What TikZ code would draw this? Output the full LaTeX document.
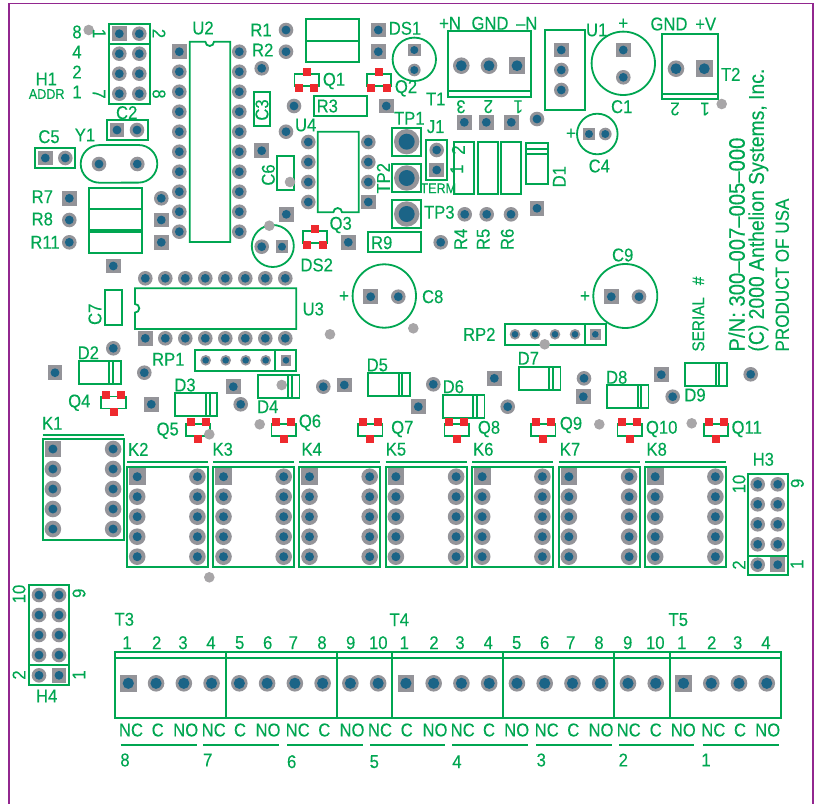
\documentclass[tikz,border=0pt]{standalone}
\usepackage{fontspec}
\setmainfont[FakeStretch=0.9,FakeBold=0.25]{Liberation Sans}
\usepackage{tikz}
\definecolor{silkgreen}{RGB}{0,166,81}
\definecolor{padgray}{RGB}{148,148,153}
\definecolor{viagray}{RGB}{168,166,168}
\definecolor{holeblue}{RGB}{27,100,135}
\definecolor{smdred}{RGB}{238,42,46}
\definecolor{edgepurple}{RGB}{146,39,143}

% pads: outer size, hole size, list of x/y
\newcommand{\roundpads}[3]{\foreach \x/\y in {#3} {
  \fill[padgray] (\x,\y) circle (#1);
  \fill[holeblue] (\x,\y) circle (#2);}}
\newcommand{\squarepads}[3]{\foreach \x/\y in {#3} {
  \fill[padgray] (\x-#1,\y-#1) rectangle (\x+#1,\y+#1);
  \fill[holeblue] (\x,\y) circle (#2);}}
% sot: one red land on top, or two
\newcommand{\sotup}[2]{\draw[silk] (#1-12.2,#2-6) rectangle (#1+12.2,#2+6);
  \fill[smdred] (#1-4,#2-12.3) rectangle (#1+4,#2-4.3);
  \fill[smdred] (#1-11.7,#2+3.7) rectangle (#1-3.7,#2+11.7);
  \fill[smdred] (#1+3.7,#2+3.7) rectangle (#1+11.7,#2+11.7);}
\newcommand{\sotdown}[2]{\draw[silk] (#1-12.2,#2-6) rectangle (#1+12.2,#2+6);
  \fill[smdred] (#1-11.5,#2-11.8) rectangle (#1-3.5,#2-3.8);
  \fill[smdred] (#1+3.5,#2-11.8) rectangle (#1+11.5,#2-3.8);
  \fill[smdred] (#1-4,#2+5) rectangle (#1+4,#2+13);}

\begin{document}
\begin{tikzpicture}[
x=1pt, y=-1pt,
silk/.style={draw=silkgreen, line width=1.8pt},
via/.style={fill=viagray},
silktext/.style={text=silkgreen, inner sep=0pt, font=\fontsize{18.5}{18.5}\selectfont},
smalltext/.style={text=silkgreen, inner sep=0pt, font=\fontsize{14}{14}\selectfont},
vert/.style={silktext, rotate=90, anchor=west},
]
\useasboundingbox (0,0) rectangle (815,804);

% board edge
\draw[edgepurple, line width=1.7pt] (8.7,804) -- (8.7,3.5) -- (812.7,3.5) -- (812.7,804);

% ICs and headers
\roundpads{7.3}{4.4}{119.3/53.7,119.3/73.7,119.3/93.7,139.3/33.7,139.3/53.7,139.3/73.7,139.3/93.7}
\squarepads{7.3}{4.4}{119.3/33.7}
\foreach \py in {71.7,91.7,...,232} {\roundpads{7.3}{4.4}{179.3/\py}}
\foreach \py in {51.7,71.7,...,232} {\roundpads{7.3}{4.4}{239.3/\py}}
\squarepads{7.3}{4.4}{179.3/51.7}
\foreach \py in {142,162,182,202} {\roundpads{7.3}{4.4}{308.3/\py}}
\roundpads{7.3}{4.4}{368.3/142,368.3/162,368.3/182}
\squarepads{7.3}{4.4}{368.3/202}
\foreach \px in {145.3,165.3,...,286} {\roundpads{7.3}{4.4}{\px/278.3}}
\foreach \px in {165.3,185.3,...,286} {\roundpads{7.3}{4.4}{\px/338.3}}
\squarepads{7.3}{4.4}{145.3/338.3}

% loose round pads
\roundpads{7.3}{4.4}{137/130,65.3/158,99/164,137.3/164,69.3/220,69.3/242.3,161.3/198.3,
  286/30,286/51.7,261.7/68.3,294/106,286/131.7,464.7/214.3,486.7/214.3,511/214.3,537/119,
  440.7/242.3,261.7/246.7,113.3/348.3,144.3/372.7,240.7/404.3,323.3/386.7,433.3/384.3,
  507.7/406.7,584/378.3,672.7/396.7,750.7/374.3,436.7/150,561.3/70,561.3/90,623.3/77.3,
  398.3/296.7,639/296.7}
% loose square pads
\squarepads{7.3}{4.4}{117/130,45.3/158,69.3/198.3,161.3/220,161.3/242.3,113.3/266,261.7/150.7,
  378.3/30,378.3/51.7,386.3/106,464.3/122.3,486.3/122.3,511.3/122.3,537/208.3,348.3/242.3,
  286.3/214.3,55/372.7,151.3/404.3,233.3/386.7,344.3/385,418.3/406.7,494.3/378.3,583.3/396.7,
  661.3/374.7,436.7/170,561.3/50,623.3/50,370.7/296.7,611.3/296.7}
\roundpads{6.3}{4}{414.3/70,605.3/134}
\squarepads{6.3}{4}{414.3/50,589/134,282/246.7}
% test points
\roundpads{12.7}{8}{406.7/141.7,406.7/178,406.7/214}
% resistor packs
\roundpads{5.3}{3.3}{205.7/360.3,225.7/360.3,245.7/360.3,265.7/360.3,515/334.3,535/334.3,555/334.3,575/334.3}
\squarepads{5.3}{3.3}{286/360.3,595.3/334.3}
% power terminals
\roundpads{8.3}{5.4}{461.3/65.7,489/65.7,676/68.7}
\squarepads{8.3}{5.4}{517/65.7,704.3/68.7}

% relays
\foreach \kx/\ky in {42.7/449,127/476.7,213.3/476.7,299.3/476.7,385.7/476.7,472/476.7,558.7/476.7,645/476.7} {
  \foreach \i in {0,...,4} {
    \pgfmathsetmacro{\py}{\ky+20*\i}
    \pgfmathsetmacro{\px}{\kx+10.2}
    \pgfmathsetmacro{\qx}{\kx+70.4}
    \roundpads{8.3}{4.5}{\qx/\py}
    \ifnum\i>0 \roundpads{8.3}{4.5}{\px/\py}\fi
  }
  \pgfmathsetmacro{\px}{\kx+10.2}
  \squarepads{8.3}{4.5}{\px/\ky}
}
% address headers
\foreach \py in {484.3,504.3,524.3,544.3} {\roundpads{7.3}{4.4}{757.7/\py,777.7/\py}}
\roundpads{7.3}{4.4}{757.7/564.7}
\squarepads{7.3}{4.4}{777.7/564.7}
\foreach \py in {595,615,635,655} {\roundpads{7.3}{4.4}{39/\py,59/\py}}
\roundpads{7.3}{4.4}{39/675.3}
\squarepads{7.3}{4.4}{59/675.3}
% output terminals
\foreach \i in {0,...,23} {
  \pgfmathsetmacro{\px}{128.3+27.76*\i}
  \ifnum\i=0 \squarepads{8.3}{5.6}{\px/683.3}
  \else\ifnum\i=10 \squarepads{8.3}{5.6}{\px/683.3}
  \else\ifnum\i=20 \squarepads{8.3}{5.6}{\px/683.3}
  \else \roundpads{8.3}{5.6}{\px/683.3}\fi\fi\fi
}

% outlines
\foreach \a/\b/\c/\d in {109/23.7/149.7/43.7,109/43.7/149.7/104,106.7/120/147.7/140,34.7/147.7/75.3/168.3,
  89/187.7/142/209,89/209/142/230.3,89/232.3/142/252.7,253.7/91.7/270.3/126.3,277.3/155.7/294.3/190.3,
  305.7/19.3/358.7/40.7,305.7/40.7/358.7/62,313.7/95.7/366.7/116,368/232/421/252.3,
  392.3/128/421/156,392.3/164/421/192.3,392.3/200/421/228.3,426.3/140/447/180.3,
  454.3/141.7/474.3/194.3,477.7/141.7/497.7/194.3,500.7/141.7/521/194.3,
  526/142.7/548/184.3,447.7/30.7/531/97,544.7/30/585.3/110,662.3/33.7/718/99.3,
  105/290/121.7/325,195.3/350/296.3/370.7,504.7/324/605.7/344.7,
  748.3/474.3/788.3/575,29/585/69.3/685.3,115/651.7/781/717.7}
  \draw[silk] (\a,\b) rectangle (\c,\d);
% relay bodies
\foreach \kx/\kb in {127.3/566.7,213.3/566.7,299.3/566.7,385.7/566.7,472.3/566.7,558.7/566.7,645.3/566.7} {
  \draw[silk] (\kx,466.7) rectangle (\kx+81,\kb);
  \draw[silk] (\kx,462.3) -- (\kx+81,462.3);
}
\draw[silk] (42.7,439) rectangle (124,540);
\draw[silk] (42.7,434.7) -- (124,434.7);
% diodes
\foreach \a/\b/\l/\m in {79/361/109.3/112.7,175.3/393.3/205.7/210,257.7/375/288.3/292.3,368/373.3/399/402.3,
  442.7/395.3/472.7/476.7,518.7/367.3/549.3/552.7,606.7/385/637.7/641,685.3/363.3/716/719.3} {
  \draw[silk] (\a,\b) rectangle (\a+41.8,\b+22.7);
  \draw[silk] (\l,\b) -- (\l,\b+22.7);
  \draw[silk] (\m,\b) -- (\m,\b+22.7);
}
% inner lines
\draw[silk] (526,149) -- (548,149) (526,154.3) -- (548,154.3);
\draw[silk] (447.7,91.3) -- (531,91.3) (662.3,94.3) -- (718,94.3);
\draw[silk] (275.3,350) -- (275.3,370.7) (585.3,324) -- (585.3,344.7);
\draw[silk] (748.3,555.7) -- (788.3,555.7) (29,665.3) -- (69.3,665.3);
\draw[silk] (115,657.7) -- (781,657.7);
\foreach \x in {226,336.7,392.3,503,614,669.7} {\draw[silk] (\x,651.7) -- (\x,717.7);}
\foreach \a/\b in {120.7/196.7,203.3/278.7,287.3/362.7,370/445,452/527.7,536.3/612,619/694.3,703/778.7}
  {\draw[silk] (\a,745) -- (\b,745);}

% notched packages
\draw[silk] (189.7,41.7) -- (205.4,41.7) arc[start angle=180, end angle=0, radius=4.3] -- (230.3,41.7) -- (230.3,242) -- (189.7,242) -- cycle;
\draw[silk] (317.7,212.3) -- (333.4,212.3) arc[start angle=180, end angle=360, radius=4.3] -- (358.7,212.3) -- (358.7,131.7) -- (317.7,131.7) -- cycle;
\draw[silk] (135,288.3) -- (296.3,288.3) -- (296.3,329) -- (135,329) -- (135,312.6) arc[start angle=90, end angle=-90, radius=4.3] -- cycle;
\draw[silk] (99.5,145) -- (138.5,145) arc[start angle=-90, end angle=90, radius=18.8] -- (99.5,182.7) arc[start angle=90, end angle=270, radius=18.8] -- cycle;

% round cans
\foreach \x/\y/\r in {414.3/59.3/21.7,272.8/246/21,623.3/63.3/31.7,597.3/134/20.3,384.3/296/31.7,625.3/296/32}
  {\draw[silk] (\x,\y) circle (\r);}

% transistors
\sotup{306.7}{80}
\sotup{379}{80}
\sotup{315}{237}
\sotdown{113.5}{402.5}
\foreach \x in {198,283.7,370.3,456.7,543.3,629.7,716} {\sotdown{\x}{430}}

% vias
\foreach \x/\y in {88.7/30,269.3/225.7,290/182,721.7/104,413.3/328.3,330/334.3,544.7/344.3,281.7/385,
  259.7/424.3,209.3/434.3,599.3/424.3,691.7/423.3,209.3/577.3}
  {\fill[via] (\x,\y) circle (5.3);}

% labels
\foreach \x/\y/\t [count=\i] in {77/32/8,77/52/4,77/72/2,77/92/1,46.3/79/H1,203/28/U2,261/30/R1,262.7/50/R2,
  126.7/112.7/C2,49/136.7/C5,85/135/Y1,42.3/196.7/R7,42.3/219/R8,45/242.3/R11,
  405/28.3/DS1,334/81/Q1,406/88.3/Q2,340.7/225/Q3,316.7/265/DS2,327.3/106/R3,305.7/125/U4,
  409.3/118.3/TP1,439.3/212.3/TP3,435.7/126.7/J1,381.7/242.7/R9,
  450/23.3/+N,490/23.3/GND,526.7/23.3/--N,435.7/99/T1,596.7/30/U1,623.3/24/+,621.7/106.7/C1,
  669/24/GND,705.7/24/+V,730.7/74.3/T2,571/134/+,599.3/166/C4,
  344/296.7/+,432.7/296.7/C8,585/296.7/+,622.7/255/C9,313.3/309/U3,
  88.3/352.7/D2,79.3/402.7/Q4,168.3/359.3/RP1,185/385/D3,267.7/406.7/D4,167.7/430.7/Q5,
  377.3/365/D5,453.3/386.7/D6,528.3/358.3/D7,616.7/377.3/D8,695/395/D9,479.3/334.3/RP2,
  310/422.7/Q6,402.3/429/Q7,489/429/Q8,571/425/Q9,661.7/429/Q10,746.7/429/Q11,
  52.3/423.3/K1,138.3/449.3/K2,222.7/449.3/K3,311.7/449.3/K4,396/449.3/K5,483.3/449.3/K6,570/449.3/K7,656.7/449.3/K8,
  763.3/459.3/H3,46.7/696/H4,124.3/619.3/T3,399.3/619.7/T4,678.3/619.7/T5}
  {\node[silktext] (lbl\i) at (\x,\y) {\t};}
% small words
\node[smalltext] (addr) at (46.7,94) {ADDR};
\node[smalltext] (term) at (438.3,188.3) {TERM};
% terminal numbers
\foreach \x/\t [count=\i] in {127/1,156.7/2,183/3,211/4,239.7/5,267.7/6,293.3/7,322/8,350.7/9,378.3/10,
  404.3/1,434/2,460/3,488.3/4,516.7/5,544.7/6,570.7/7,599/8,627.7/9,655.3/10,681.7/1,711.7/2,737.7/3,766/4}
  {\node[silktext] (pin\i) at (\x,642.7) {\t};}
\foreach \x/\t [count=\i] in {131/NC,157.7/C,185.7/NO,213.7/NC,240/C,268/NO,297.7/NC,324.3/C,352/NO,380/NC,
  406.7/C,435/NO,462.7/NC,489/C,516.7/NO,546.7/NC,573.3/C,601/NO,628.7/NC,655.7/C,683.3/NO,713.3/NC,740/C,767.7/NO}
  {\node[silktext] (con\i) at (\x,730) {\t};}
\foreach \x/\y/\t [count=\i] in {125/760/8,207.7/760/7,291.7/761.7/6,374.3/761.7/5,457/761.7/4,541.3/760/3,623.3/760/2,706/760/1}
  {\node[silktext] (rly\i) at (\x,\y) {\t};}
% rotated labels
\foreach \x/\y/\t [count=\i] in {262/110/C3,268.3/175/C6,383.3/178.3/TP2,458.3/150/2,456.7/169.3/1,
  460.7/239.3/R4,483.3/239.3/R5,507.3/239.3/R6,559.3/176.7/D1,95/314.3/C7,
  739/484/10,797.3/483.3/9,739/565/2,797/564.3/1,19/594/10,79/593.3/9,19/675/2,79/675/1}
  {\node[silktext, rotate=90] (rot\i) at (\x,\y) {\t};}
\foreach \x/\y/\t [count=\i] in {99.3/33.5/1,159/33.5/2,99/94/7,159/94/8}
  {\node[silktext, rotate=-90] (hdr\i) at (\x,\y) {\t};}
\foreach \x/\y/\t [count=\i] in {461/106.7/3,488.3/106.7/2,518.3/106.7/1,675/109/2,705/109/1}
  {\node[silktext, rotate=180] (flip\i) at (\x,\y) {\t};}
% board text
\node[vert, font=\fontsize{17}{17}\selectfont] (serial) at (698.3,351.7) {SERIAL\hspace{12pt}\#};
\node[vert, font=\fontsize{22.5}{22.5}\selectfont] (partno) at (736.7,351.7) {P/N: 300--007--005--000};
\node[vert, font=\fontsize{21.5}{21.5}\selectfont] (company) at (758.3,351.7) {(C) 2000 Anthelion Systems, Inc.};
\node[vert, font=\fontsize{19}{19}\selectfont] (origin) at (782.3,351.7) {PRODUCT OF USA};

\end{tikzpicture}
\end{document}
